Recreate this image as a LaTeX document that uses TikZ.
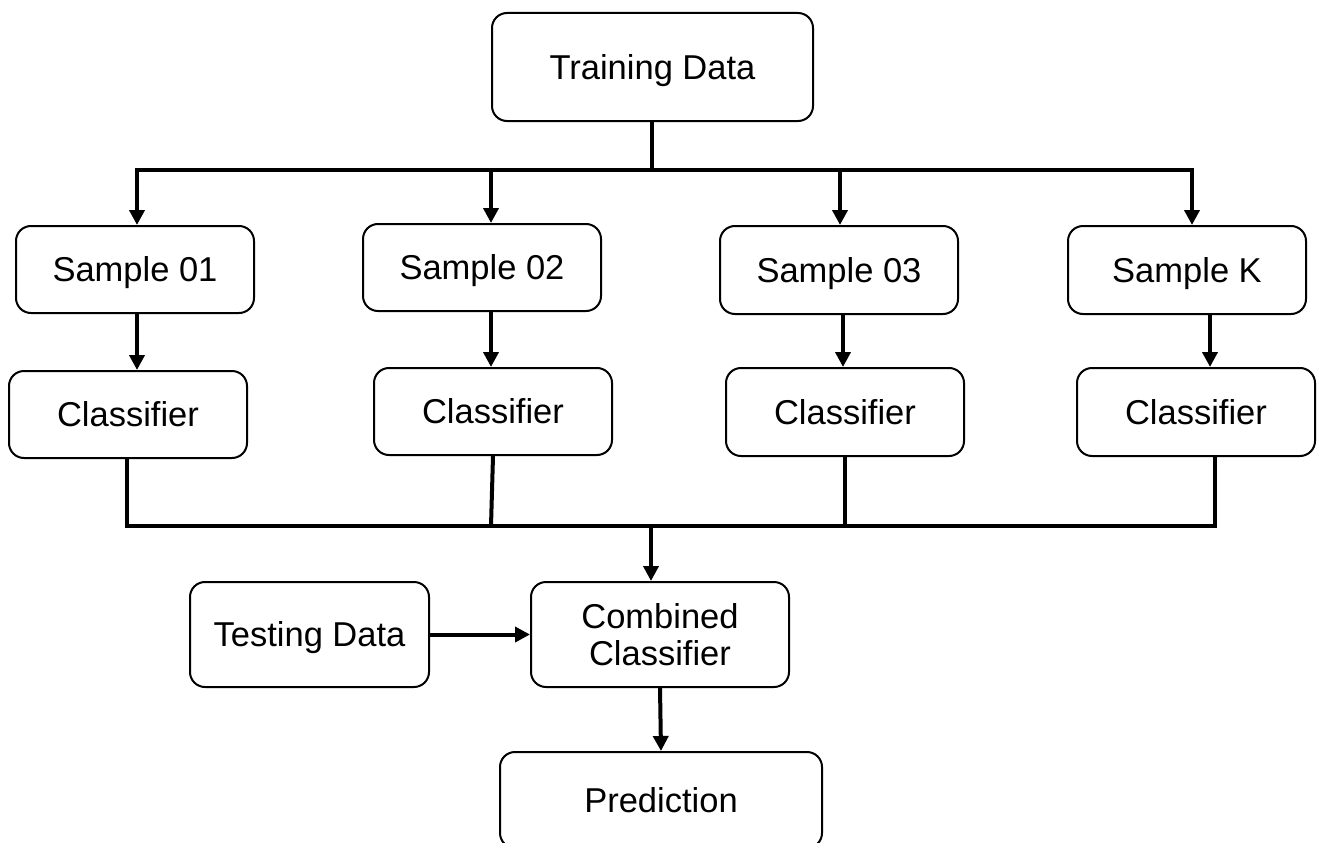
\documentclass[tikz,border=0pt]{standalone}
\usepackage{fontspec}
\setmainfont{Liberation Sans}
\usetikzlibrary{arrows.meta}
\begin{document}
\begin{tikzpicture}[x=1pt,y=-1pt,
  box/.style={draw=black,line width=2pt,rounded corners=15pt,fill=white,align=center,
    font=\fontsize{34.5}{40}\selectfont,inner sep=0pt},
  one/.style={box,text height=24.7pt,text depth=0pt},
  conn/.style={line width=4pt},
  arr/.style={line width=4pt,-{Triangle[length=15pt,width=15pt]}}]
\clip (0,0) rectangle (1317,843);
\fill[white] (0,0) rectangle (1317,843);
\node[one,minimum width=321pt,minimum height=108pt] (train) at (652.5,67) {Training Data};
\node[one,minimum width=238pt,minimum height=87pt] (s1) at (135,269.5) {Sample 01};
\node[one,minimum width=238pt,minimum height=87pt] (s2) at (482,267.5) {Sample 02};
\node[one,minimum width=238pt,minimum height=88pt] (s3) at (839,270) {Sample 03};
\node[one,minimum width=238pt,minimum height=88pt] (sK) at (1187,270) {Sample K};
\node[one,minimum width=238pt,minimum height=87pt] (c1) at (128,414.5) {Classifier};
\node[one,minimum width=238pt,minimum height=87pt] (c2) at (493,411.5) {Classifier};
\node[one,minimum width=238pt,minimum height=88pt] (c3) at (845,412) {Classifier};
\node[one,minimum width=238pt,minimum height=88pt] (c4) at (1196,412) {Classifier};
\node[one,minimum width=239pt,minimum height=105pt] (test) at (309.5,634.5) {Testing Data};
\node[box,minimum width=258pt,minimum height=105pt] (comb) at (660,634.5) {Combined\\[-3pt]Classifier};
\node[one,minimum width=322pt,minimum height=96pt] (pred) at (661,800) {Prediction};
% top bus
\coordinate (tb) at (652,170);
\coordinate (b1) at (137,170);
\coordinate (b2) at (491,170);
\coordinate (b3) at (840,170);
\coordinate (b4) at (1192,170);
\draw[conn] (train.south -| tb) -- (tb);
\draw[conn,line cap=rect] (b1) -- (b4);
\draw[arr] (b1) -- (b1 |- s1.north);
\draw[arr] (b2) -- (b2 |- s2.north);
\draw[arr] (b3) -- (b3 |- s3.north);
\draw[arr] (b4) -- (b4 |- sK.north);
% sample -> classifier
\coordinate (a1) at (137,0);
\coordinate (a2) at (491,0);
\coordinate (a3) at (843,0);
\coordinate (a4) at (1210,0);
\draw[arr] (a1 |- s1.south) -- (a1 |- c1.north);
\draw[arr] (a2 |- s2.south) -- (a2 |- c2.north);
\draw[arr] (a3 |- s3.south) -- (a3 |- c3.north);
\draw[arr] (a4 |- sK.south) -- (a4 |- c4.north);
% bottom bus
\coordinate (d1) at (127,526);
\coordinate (d2) at (491,526);
\coordinate (d3) at (845,526);
\coordinate (d4) at (1215,526);
\coordinate (dm) at (651,526);
\draw[conn] (d1 |- c1.south) -- (d1);
\draw[conn] (c2.south) -- (d2);
\draw[conn] (d3 |- c3.south) -- (d3);
\draw[conn] (d4 |- c4.south) -- (d4);
\draw[conn,line cap=rect] (d1) -- (d4);
\draw[arr] (dm) -- (dm |- comb.north);
% testing -> combined
\draw[arr] (test.east) -- (comb.west);
% combined -> prediction
\draw[arr] (comb.south) -- (pred.north);
\end{tikzpicture}
\end{document}
